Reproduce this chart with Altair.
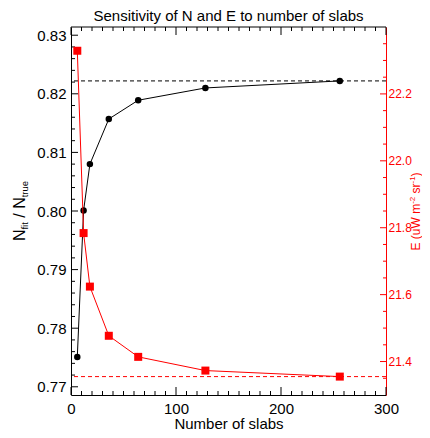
import altair as alt
import pandas as pd

F = "Liberation Sans"

# ---- data ----
slabs = [6, 12, 18, 36, 64, 128, 256]
n_ratio = [0.7751, 0.8001, 0.8080, 0.8157, 0.8189, 0.8210, 0.8222]
e_vals = [22.329, 21.784, 21.624, 21.477, 21.414, 21.373, 21.355]
n_ref = [0.8222]
e_ref = [21.355]

# ---- tick positions ----
x_major = [0, 100, 200, 300]
x_minor = [10, 20, 30, 40, 50, 60, 70, 80, 90, 110, 120, 130, 140, 150, 160, 170, 180, 190,
           210, 220, 230, 240, 250, 260, 270, 280, 290]
yl_major = [0.77, 0.78, 0.79, 0.80, 0.81, 0.82, 0.83]
yl_minor = [0.772, 0.774, 0.776, 0.778, 0.782, 0.784, 0.786, 0.788, 0.792, 0.794, 0.796, 0.798,
            0.802, 0.804, 0.806, 0.808, 0.812, 0.814, 0.816, 0.818, 0.822, 0.824, 0.826, 0.828]
yr_major = [21.4, 21.6, 21.8, 22.0, 22.2]
yr_minor = [21.35, 21.45, 21.5, 21.55, 21.65, 21.7, 21.75, 21.85, 21.9, 21.95,
            22.05, 22.1, 22.15, 22.25, 22.3, 22.35]

W, H = 315, 368
RED = "#ff0000"

xs = alt.Scale(domain=[0, 300], nice=False, zero=False)
yls = alt.Scale(domain=[0.7686, 0.8314], nice=False, zero=False)
yrs = alt.Scale(domain=[21.3, 22.4], nice=False, zero=False)

x_axis = alt.Axis(values=x_major, format="d", ticks=False, domainColor="black", domainWidth=1,
                  labelFont=F, labelFontSize=15, labelColor="black", labelPadding=6,
                  labelFlush=False, labelOverlap=False, grid=False,
                  title="Number of slabs", titleFont=F, titleFontSize=15, titleFontWeight="normal",
                  titleColor="black", titleY=33, titleBaseline="alphabetic")
yl_axis = alt.Axis(values=yl_major, format=".2f", ticks=False, domainColor="black", domainWidth=1,
                   labelFont=F, labelFontSize=15, labelColor="black", labelPadding=5,
                   labelOverlap=False, grid=False, title=None)
yr_axis = alt.Axis(orient="right", values=yr_major, format=".1f", ticks=False, domainColor=RED,
                   domainWidth=1, labelFont=F, labelFontSize=12, labelColor=RED, labelPadding=2,
                   labelOverlap=False, grid=False, title=None)

X = lambda f: alt.X(f, scale=xs, axis=x_axis)
YL = lambda f: alt.Y(f, scale=yls, axis=yl_axis)
YR = lambda f: alt.Y(f, scale=yrs, axis=yr_axis)

dn = pd.DataFrame({"slabs": slabs, "n": n_ratio})
de = pd.DataFrame({"slabs": slabs, "e": e_vals})

# ---- left (black) layer ----
black_line = alt.Chart(dn).mark_line(color="black", strokeWidth=1).encode(x=X("slabs:Q"), y=YL("n:Q"))
black_pts = alt.Chart(dn).mark_point(filled=True, shape="circle", size=42, color="black", opacity=1).encode(
    x=X("slabs:Q"), y=YL("n:Q"))
black_ref = alt.Chart(pd.DataFrame({"n": n_ref})).mark_rule(color="black", strokeWidth=1, strokeDash=[4, 3]).encode(
    y=YL("n:Q"))
yl_maj_t = alt.Chart(pd.DataFrame({"v": yl_major})).mark_rule(color="black", strokeWidth=1).encode(
    x=alt.value(0), x2=alt.value(7), y=YL("v:Q"))
yl_min_t = alt.Chart(pd.DataFrame({"v": yl_minor})).mark_rule(color="black", strokeWidth=1).encode(
    x=alt.value(0), x2=alt.value(4), y=YL("v:Q"))

xmaj_b = alt.Chart(pd.DataFrame({"v": x_major})).mark_rule(color="black", strokeWidth=1).encode(
    x=X("v:Q"), y=alt.value(H), y2=alt.value(H - 8))
xmin_b = alt.Chart(pd.DataFrame({"v": x_minor})).mark_rule(color="black", strokeWidth=1).encode(
    x=X("v:Q"), y=alt.value(H), y2=alt.value(H - 4))
xmaj_t = alt.Chart(pd.DataFrame({"v": x_major})).mark_rule(color="black", strokeWidth=1).encode(
    x=X("v:Q"), y=alt.value(0), y2=alt.value(8))
xmin_t = alt.Chart(pd.DataFrame({"v": x_minor})).mark_rule(color="black", strokeWidth=1).encode(
    x=X("v:Q"), y=alt.value(0), y2=alt.value(4))
top_border = alt.Chart(pd.DataFrame({"a": [0]})).mark_rule(color="black", strokeWidth=1).encode(
    x=alt.value(0), x2=alt.value(W), y=alt.value(0))

def txt(s, x, y, size, color="black", angle=0, align="left", baseline="alphabetic"):
    kw = dict(font=F, fontSize=size, color=color, align=align, baseline=baseline)
    if angle:
        kw["angle"] = angle
    return alt.Chart(pd.DataFrame({"t": [s]})).mark_text(**kw).encode(
        x=alt.value(x), y=alt.value(y), text="t:N")

title = txt("Sensitivity of N and E to number of slabs", W / 2, -6, 15, align="center")

# left axis title: N_fit / N_true
lx, lsub = -46, -43
left_title = [
    txt("N", lx, 214.1, 16, angle=270),
    txt("fit", lsub, 202.6, 9.5, angle=270),
    txt("/ N", lx, 190.75, 16, angle=270),
    txt("true", lsub, 170.3, 9.5, angle=270),
]

# right axis title: E (uW m^-2 sr^-1)
rx, rsup = 349, 344
right_title = [
    txt("E (uW m", rx, 223.5, 12, RED, angle=270),
    txt("-2", rsup, 176.8, 8, RED, angle=270),
    txt("sr", rx, 166.5, 12, RED, angle=270),
    txt("-1", rsup, 156.5, 8, RED, angle=270),
    txt(")", rx, 149.4, 12, RED, angle=270),
]

left_layer = alt.layer(black_ref, black_line, black_pts, yl_maj_t, yl_min_t,
                       xmaj_b, xmin_b, xmaj_t, xmin_t, top_border, title, *left_title)

# ---- right (red) layer ----
red_line = alt.Chart(de).mark_line(color=RED, strokeWidth=1).encode(x=X("slabs:Q"), y=YR("e:Q"))
red_pts = alt.Chart(de).mark_point(filled=True, shape="square", size=64, color=RED, opacity=1).encode(
    x=X("slabs:Q"), y=YR("e:Q"))
red_ref = alt.Chart(pd.DataFrame({"e": e_ref})).mark_rule(color=RED, strokeWidth=1, strokeDash=[4, 3]).encode(
    y=YR("e:Q"))
yr_maj_t = alt.Chart(pd.DataFrame({"v": yr_major})).mark_rule(color=RED, strokeWidth=1).encode(
    x=alt.value(W), x2=alt.value(W - 6), y=YR("v:Q"))
yr_min_t = alt.Chart(pd.DataFrame({"v": yr_minor})).mark_rule(color=RED, strokeWidth=1).encode(
    x=alt.value(W), x2=alt.value(W - 3), y=YR("v:Q"))

right_layer = alt.layer(red_ref, red_line, red_pts, yr_maj_t, yr_min_t, *right_title)

chart = alt.layer(left_layer, right_layer).resolve_scale(y="independent").properties(
    width=W, height=H,
    autosize=alt.AutoSizeParams(type="none"),
    padding={"left": 63, "top": 19, "right": 36, "bottom": 35},
    background="white",
).configure_view(stroke=None)

chart.save("out.html", embed_options={"renderer": "svg", "actions": False})
